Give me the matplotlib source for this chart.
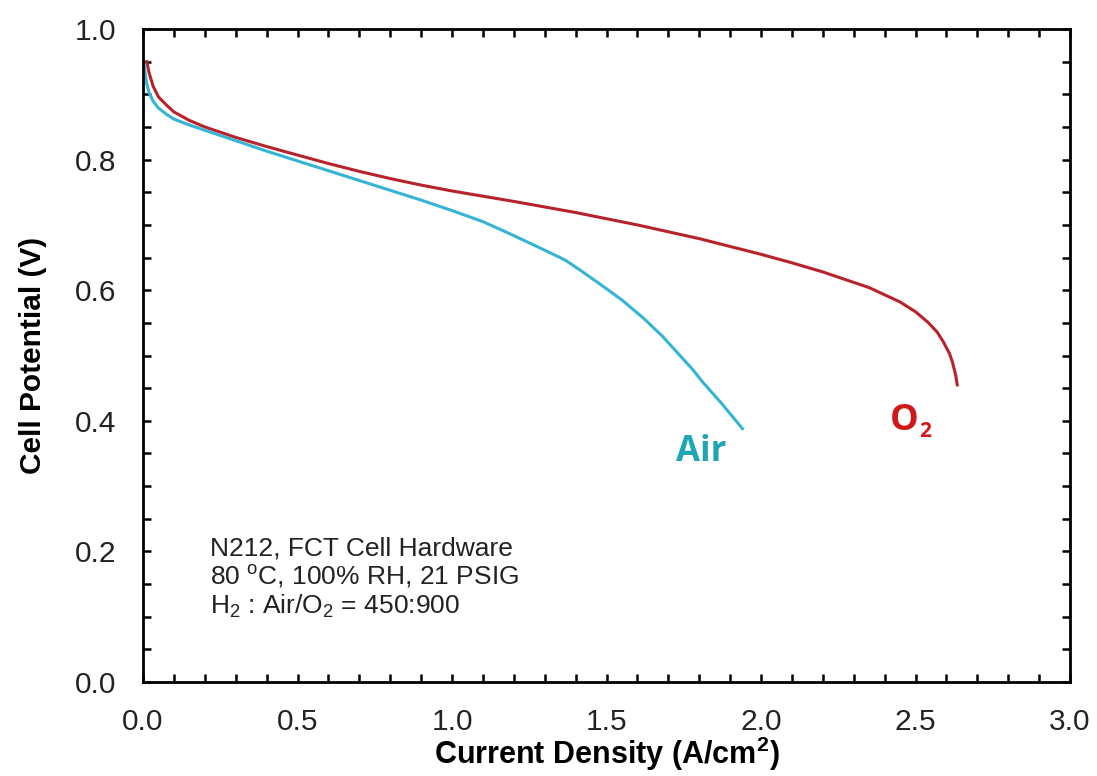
import matplotlib.pyplot as plt
from matplotlib.ticker import MultipleLocator

plt.rcParams["font.family"] = ["Liberation Sans", "DejaVu Sans"]
plt.rcParams["mathtext.fontset"] = "custom"
plt.rcParams["mathtext.rm"] = "Liberation Sans"
plt.rcParams["mathtext.bf"] = "Liberation Sans:bold"

# Polarization curves: current density (A/cm2) vs cell potential (V)
o2_current = [0.012, 0.02, 0.033, 0.05, 0.077, 0.1, 0.15, 0.2, 0.3, 0.4,
              0.5, 0.6, 0.7, 0.8, 0.9, 1.0, 1.2, 1.4, 1.6, 1.8,
              2.0, 2.1, 2.2, 2.35, 2.45, 2.5, 2.54, 2.57, 2.59, 2.61,
              2.62, 2.63, 2.635]
o2_voltage = [0.950, 0.932, 0.912, 0.896, 0.883, 0.873, 0.860, 0.850, 0.834, 0.820,
              0.807, 0.794, 0.782, 0.771, 0.761, 0.752, 0.736, 0.719, 0.700, 0.679,
              0.655, 0.642, 0.628, 0.604, 0.582, 0.567, 0.551, 0.536, 0.521, 0.503,
              0.489, 0.470, 0.455]

air_current = [0.003, 0.01, 0.02, 0.033, 0.05, 0.077, 0.1, 0.15, 0.2, 0.3,
               0.4, 0.5, 0.6, 0.7, 0.8, 0.9, 1.0, 1.1, 1.18, 1.27,
               1.35, 1.37, 1.42, 1.48, 1.55, 1.62, 1.68, 1.73, 1.78, 1.81,
               1.87, 1.94]
air_voltage = [0.947, 0.920, 0.902, 0.889, 0.879, 0.869, 0.862, 0.853, 0.845, 0.829,
               0.813, 0.798, 0.783, 0.768, 0.753, 0.738, 0.722, 0.705, 0.688, 0.668,
               0.650, 0.645, 0.629, 0.609, 0.585, 0.557, 0.530, 0.504, 0.478, 0.460,
               0.428, 0.388]

notes = ["N212, FCT Cell Hardware",
         "80 $^{\\mathrm{o}}$C, 100% RH, 21 PSIG",
         "H$_2$ : Air/O$_2$ = 450:900"]

O2_COLOR = "#b8232b"
AIR_COLOR = "#35b4d4"

fig = plt.figure(figsize=(10.97, 7.76), dpi=100)
ax = fig.add_axes([0.1304, 0.1211, 0.8450, 0.8415])

ax.plot(o2_current, o2_voltage, color=O2_COLOR, lw=2.2)
ax.plot(air_current, air_voltage, color=AIR_COLOR, lw=2.2)

ax.set_xlim(0, 3.0)
ax.set_ylim(0, 1.0)
ax.xaxis.set_major_locator(MultipleLocator(0.5))
ax.xaxis.set_minor_locator(MultipleLocator(0.1))
ax.yaxis.set_major_locator(MultipleLocator(0.2))
ax.yaxis.set_minor_locator(MultipleLocator(0.05))
ax.xaxis.set_major_formatter(lambda v, p: f"{v:.1f}")
ax.yaxis.set_major_formatter(lambda v, p: f"{v:.1f}")

ax.tick_params(which="both", direction="in", top=True, right=True,
               length=6, width=1.8, colors="black")
ax.tick_params(which="major", labelsize=21.5, labelcolor="#222222", pad=19)
for s in ax.spines.values():
    s.set_linewidth(2.0)

ax.set_xlabel("Current Density (A/cm$^\\mathbf{2}$)", fontsize=22, fontweight="bold",
              labelpad=-1)
ax.set_ylabel("Cell Potential (V)", fontsize=21.5, fontweight="bold", labelpad=20)

# curve labels
label_font = ["Open Sans", "DejaVu Sans"]
ax.text(1.805, 0.353, "Air", color="#1fa5b5", fontsize=25, fontweight="bold",
        family=label_font, ha="center", va="center")
ax.text(2.463, 0.399, "O", color="#d01818", fontsize=26, fontweight="bold",
        family=label_font, ha="center", va="center")
ax.text(2.531, 0.384, "2", color="#d01818", fontsize=15, fontweight="bold",
        family=label_font, ha="center", va="center")

# test conditions
for i, line in enumerate(notes):
    ax.text(0.217, 0.193 - 0.044 * i, line, fontsize=19, color="#222222",
            ha="left", va="baseline")

fig.savefig("out.png", dpi=100)
